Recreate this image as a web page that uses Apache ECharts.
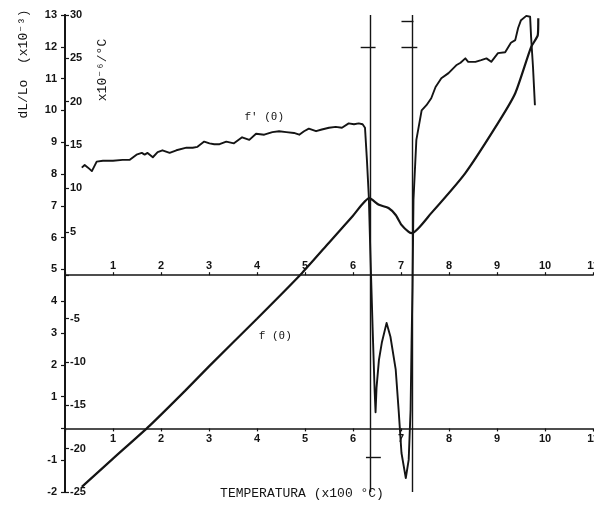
<!DOCTYPE html>
<html>
<head>
<meta charset="utf-8">
<script src="https://cdn.jsdelivr.net/npm/echarts@6/dist/echarts.min.js"></script>
<style>
  html, body { margin: 0; padding: 0; background: #fff; }
  #chart { width: 594px; height: 520px; }
</style>
</head>
<body>
<div id="chart"></div>
<script>
// Dilatation curve f(θ): [temperature (x100 °C), dL/Lo (x10^-3)]
const dilatationCurve = [
  [0.35, -1.84], [1.0, -0.95], [1.76, 0.08], [2.5, 1.18], [3.0, 1.95],
  [4.0, 3.45], [4.94, 4.89], [5.5, 5.84], [6.0, 6.69], [6.34, 7.24],
  [6.54, 7.03], [6.74, 6.93], [6.89, 6.71], [7.01, 6.40], [7.16, 6.18],
  [7.23, 6.14], [7.63, 6.77], [8.34, 8.03], [9.02, 9.60], [9.38, 10.54],
  [9.71, 11.99], [9.85, 12.37], [9.86, 12.9]
];

// Derivative curve f'(θ): [temperature (x100 °C), coefficient (x10^-6/°C)]
const coefficientCurve = [
  [0.35, 12.4], [0.41, 12.7], [0.48, 12.4], [0.56, 12.0], [0.66, 13.1],
  [0.79, 13.2], [1.00, 13.2], [1.20, 13.3], [1.35, 13.3], [1.49, 13.9],
  [1.60, 14.1], [1.66, 13.9], [1.72, 14.1], [1.83, 13.6], [1.93, 14.2],
  [2.03, 14.4], [2.18, 14.1], [2.32, 14.4], [2.53, 14.7], [2.66, 14.7],
  [2.76, 14.8], [2.90, 15.4], [3.01, 15.2], [3.11, 15.1], [3.22, 15.1],
  [3.36, 15.4], [3.52, 15.2], [3.69, 15.9], [3.84, 15.6], [3.98, 16.3],
  [4.15, 16.2], [4.32, 16.5], [4.46, 16.6], [4.61, 16.5], [4.77, 16.4],
  [4.88, 16.2], [4.98, 16.6], [5.08, 16.9], [5.23, 16.6], [5.35, 16.8],
  [5.50, 17.0], [5.64, 17.1], [5.77, 17.0], [5.91, 17.5], [6.02, 17.4],
  [6.12, 17.5], [6.20, 17.4], [6.25, 17.0], [6.29, 13.3], [6.33, 9.0],
  [6.36, 2.9], [6.41, -6.3], [6.45, -13.2], [6.47, -15.8], [6.49, -13.0],
  [6.54, -9.8], [6.60, -7.8], [6.70, -5.5], [6.78, -7.1], [6.89, -10.9],
  [6.95, -15.5], [7.01, -20.5], [7.10, -23.4], [7.16, -21.3], [7.20, -15.5],
  [7.22, -7.8], [7.24, -1.4], [7.26, 8.7], [7.32, 15.6], [7.43, 19.0],
  [7.53, 19.6], [7.63, 20.4], [7.72, 21.7], [7.84, 22.7], [7.99, 23.3],
  [8.15, 24.2], [8.24, 24.5], [8.34, 25.0], [8.40, 24.6], [8.55, 24.6],
  [8.67, 24.8], [8.78, 25.0], [8.88, 24.6], [9.02, 25.6], [9.17, 25.7],
  [9.29, 26.8], [9.38, 27.1], [9.44, 28.5], [9.50, 29.4], [9.61, 29.9],
  [9.69, 29.8], [9.71, 27.5], [9.75, 24.0], [9.79, 19.6]
];

// Transformation temperatures (x100 °C)
const transitionTemps = [6.35, 7.23];

// Short horizontal marks on the transformation lines: [from, to, dL/Lo]
const transitionMarks = [
  [6.16, 6.47, 12.0],
  [7.01, 7.26, 12.81],
  [7.01, 7.34, 12.0],
  [6.27, 6.58, -0.9]
];

// Axis ranges
const tempRange = [0, 11];
const dilatationRange = [-2, 13];
const coefficientRange = [-25, 30];

const INK = '#141414';
const tickFont = { color: INK, fontFamily: 'Liberation Sans', fontWeight: 'bold', fontSize: 11 };
const monoFont = "'Liberation Mono', 'DejaVu Sans Mono', monospace";
const hideZero = v => (v === 0 ? '' : String(v));

// Plot geometry
const PLOT = { left: 65, top: 15, width: 528, height: 477 };
// The temperature axes sit on the zero of each vertical scale
const zeroOf = r => PLOT.top + PLOT.height * r[1] / (r[1] - r[0]);
const upperZero = zeroOf(coefficientRange);
const lowerZero = zeroOf(dilatationRange);

const chart = echarts.init(document.getElementById('chart'), null, { renderer: 'canvas' });

function tempAxis(gridIndex, position, margin, show) {
  return {
    type: 'value', gridIndex: gridIndex, position: position, show: show,
    min: tempRange[0], max: tempRange[1], interval: 1,
    axisLine: { show: true, onZero: false, lineStyle: { color: INK, width: 1.5 } },
    axisTick: { show: true, length: 3, lineStyle: { color: INK, width: 1.2 } },
    axisLabel: Object.assign({ margin: margin, formatter: hideZero }, tickFont),
    splitLine: { show: false }
  };
}

const option = {
  backgroundColor: '#fff',
  animation: false,
  grid: [
    Object.assign({ outerBoundsMode: 'none', containLabel: false }, PLOT),
    { outerBoundsMode: 'none', containLabel: false, left: PLOT.left, width: PLOT.width,
      top: upperZero, height: lowerZero - upperZero }
  ],
  xAxis: [
    tempAxis(0, 'bottom', 5, false),
    tempAxis(1, 'top', 4, true),
    tempAxis(1, 'bottom', 5, true)
  ],
  yAxis: [
    {
      type: 'value', gridIndex: 0, position: 'left',
      min: dilatationRange[0], max: dilatationRange[1], interval: 1,
      axisLine: { show: true, onZero: false, lineStyle: { color: INK, width: 1.8 } },
      axisTick: { show: true, length: 4, lineStyle: { color: INK, width: 1.2 } },
      axisLabel: Object.assign({ margin: 8, formatter: hideZero }, tickFont),
      splitLine: { show: false }
    },
    {
      type: 'value', gridIndex: 0, position: 'left',
      min: coefficientRange[0], max: coefficientRange[1], interval: 5,
      axisLine: { show: true, onZero: false, lineStyle: { color: INK, width: 1.8 } },
      axisTick: { show: true, inside: true, length: 4, lineStyle: { color: INK, width: 1.2 } },
      axisLabel: Object.assign({ inside: true, margin: 5, formatter: hideZero }, tickFont),
      splitLine: { show: false }
    },
    { type: 'value', gridIndex: 1, show: false, min: 0, max: 1 }
  ],
  series: [
    {
      name: 'f(θ)', type: 'line', xAxisIndex: 0, yAxisIndex: 0,
      data: dilatationCurve, showSymbol: false, smooth: 0.2, clip: false,
      lineStyle: { color: INK, width: 2.2 },
      markLine: {
        silent: true, symbol: 'none', animation: false,
        label: { show: false },
        lineStyle: { color: INK, width: 1.4, type: 'solid' },
        data: transitionTemps.map(t => ({ xAxis: t }))
          .concat(transitionMarks.map(m => [{ coord: [m[0], m[2]] }, { coord: [m[1], m[2]] }]))
      }
    },
    {
      name: "f'(θ)", type: 'line', xAxisIndex: 0, yAxisIndex: 1,
      data: coefficientCurve, showSymbol: false, smooth: false, clip: false,
      lineStyle: { color: INK, width: 1.9, join: 'round' }
    }
  ],
  graphic: [
    {
      type: 'text', x: 24, y: 64, rotation: Math.PI / 2,
      style: { text: 'dL/Lo  (x10⁻³)', font: '13px ' + monoFont, fill: INK,
        align: 'center', verticalAlign: 'middle' }
    },
    {
      type: 'text', x: 103, y: 70, rotation: Math.PI / 2,
      style: { text: 'x10⁻⁶/°C', font: '13px ' + monoFont, fill: INK,
        align: 'center', verticalAlign: 'middle' }
    },
    {
      type: 'text', x: 302, y: 494,
      style: { text: 'TEMPERATURA (x100 °C)', font: '13px ' + monoFont, fill: INK,
        align: 'center', verticalAlign: 'middle' }
    }
  ]
};

chart.setOption(option);

// Curve captions placed in data coordinates of the dL/Lo scale
const captions = [
  { text: "f' (θ)", at: [4.15, 9.79] },
  { text: 'f (θ)', at: [4.38, 2.91] }
];
chart.setOption({
  graphic: option.graphic.concat(captions.map(c => {
    const p = chart.convertToPixel({ xAxisIndex: 0, yAxisIndex: 0 }, c.at);
    return {
      type: 'text', x: p[0], y: p[1],
      style: { text: c.text, font: '11px ' + monoFont, fill: INK,
        align: 'center', verticalAlign: 'middle' }
    };
  }))
});
</script>
</body>
</html>
